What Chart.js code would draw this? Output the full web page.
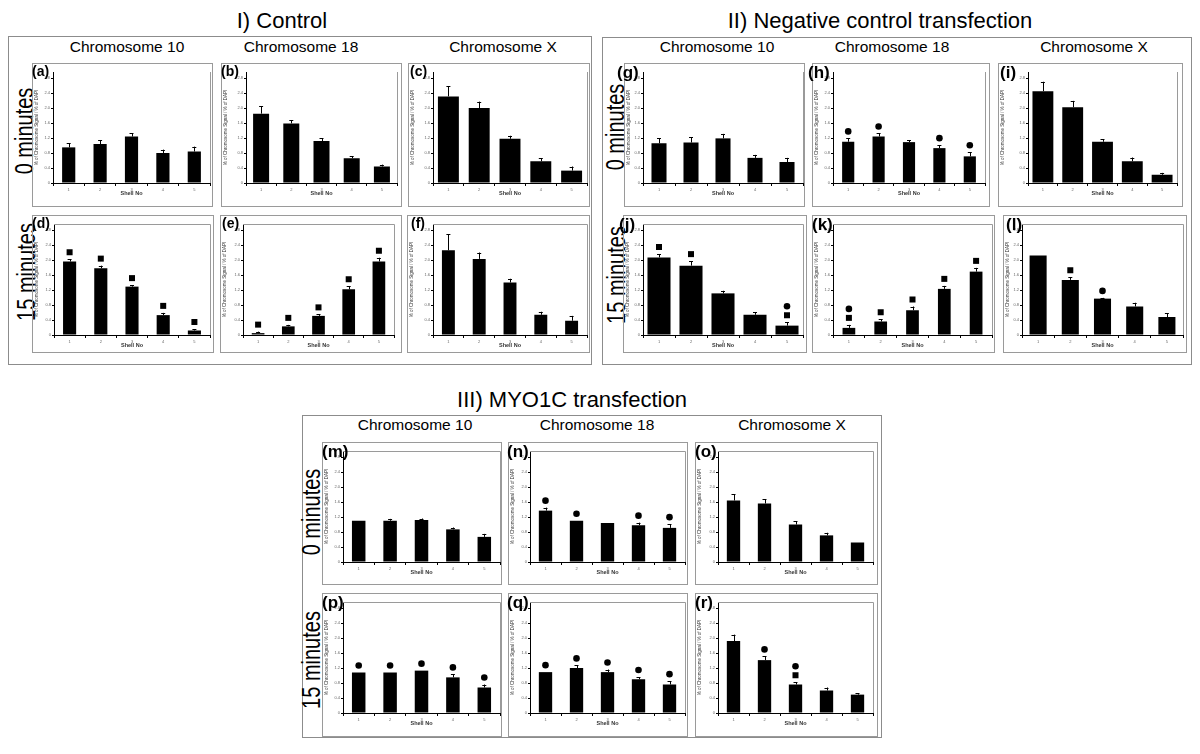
<!DOCTYPE html>
<html>
<head>
<meta charset="utf-8">
<script src="https://cdn.jsdelivr.net/npm/chart.js@4/dist/chart.umd.min.js"></script>
<style>
  body { margin: 0; background: #fff; width: 1200px; height: 754px; position: relative; overflow: hidden;
         font-family: "Liberation Sans", Arial, Helvetica, sans-serif; color: #000; }
  .group { position: absolute; border: 1px solid #8c8c8c; box-sizing: border-box; }
  .panel { position: absolute; border: 1px solid #9a9a9a; box-sizing: border-box; pointer-events: none; }
  canvas { position: absolute; }
  .title { position: absolute; font-size: 22px; line-height: 1; white-space: nowrap; transform: translate(-50%, -50%); }
  .head { position: absolute; font-size: 15.5px; line-height: 1; white-space: nowrap; transform: translate(-50%, -50%); }
  .time { position: absolute; font-size: 25px; line-height: 1; white-space: nowrap;
          transform: translate(-50%, -50%) rotate(-90deg) scaleX(0.8); }
  .lbl { position: absolute; font-weight: bold; line-height: 1; white-space: nowrap; }
</style>
</head>
<body>
<script>
// ---- data ----
const shellNo = ['1', '2', '3', '4', '5'];
const yTickValues = [0, 0.4, 0.8, 1.2, 1.6, 2, 2.4, 2.8];

// I) Control
const aMean = [0.95, 1.04, 1.24, 0.80, 0.84];
const aErr  = [0.11, 0.10, 0.09, 0.09, 0.13];
const aSig  = ['', '', '', '', ''];
const bMean = [1.85, 1.59, 1.12, 0.66, 0.44];
const bErr  = [0.20, 0.09, 0.07, 0.05, 0.05];
const bSig  = ['', '', '', '', ''];
const cMean = [2.31, 2.00, 1.18, 0.58, 0.33];
const cErr  = [0.27, 0.17, 0.08, 0.08, 0.11];
const cSig  = ['', '', '', '', ''];
const dMean = [1.96, 1.78, 1.29, 0.53, 0.12];
const dErr  = [0.06, 0.07, 0.04, 0.06, 0.04];
const dSig  = ['s', 's', 's', 's', 's'];
const eMean = [0.05, 0.23, 0.51, 1.22, 1.96];
const eErr  = [0.04, 0.04, 0.04, 0.08, 0.10];
const eSig  = ['s', 's', 's', 's', 's'];
const fMean = [2.26, 2.03, 1.40, 0.54, 0.38];
const fErr  = [0.43, 0.17, 0.10, 0.08, 0.13];
const fSig  = ['', '', '', '', ''];

// II) Negative control transfection
const gMean = [1.06, 1.08, 1.19, 0.67, 0.56];
const gErr  = [0.13, 0.14, 0.12, 0.08, 0.11];
const gSig  = ['', '', '', '', ''];
const hMean = [1.10, 1.24, 1.09, 0.93, 0.71];
const hErr  = [0.09, 0.08, 0.05, 0.08, 0.11];
const hSig  = ['c', 'c', '', 'c', 'c'];
const iMean = [2.45, 2.02, 1.10, 0.58, 0.22];
const iErr  = [0.25, 0.17, 0.07, 0.10, 0.05];
const iSig  = ['', '', '', '', ''];
const jMean = [2.07, 1.85, 1.11, 0.54, 0.25];
const jErr  = [0.09, 0.12, 0.07, 0.07, 0.09];
const jSig  = ['s', 's', '', '', 'cs'];
const kMean = [0.19, 0.36, 0.66, 1.23, 1.69];
const kErr  = [0.08, 0.06, 0.10, 0.08, 0.10];
const kSig  = ['cs', 's', 's', 's', 's'];
const lMean = [2.12, 1.47, 0.97, 0.76, 0.48];
const lErr  = [0, 0.07, 0.02, 0.10, 0.10];
const lSig  = ['', 's', 'c', '', ''];

// III) MYO1C transfection
const mMean = [1.10, 1.10, 1.12, 0.87, 0.67];
const mErr  = [0, 0.05, 0.04, 0.05, 0.08];
const mSig  = ['', '', '', '', ''];
const nMean = [1.37, 1.10, 1.04, 0.98, 0.91];
const nErr  = [0.08, 0, 0, 0.07, 0.10];
const nSig  = ['c', 'c', '', 'c', 'c'];
const oMean = [1.64, 1.56, 1.00, 0.71, 0.52];
const oErr  = [0.17, 0.12, 0.09, 0.07, 0];
const oSig  = ['', '', '', '', ''];
const pMean = [1.08, 1.08, 1.13, 0.95, 0.68];
const pErr  = [0, 0, 0, 0.08, 0.08];
const pSig  = ['c', 'c', 'c', 'c', 'c'];
const qMean = [1.09, 1.20, 1.09, 0.90, 0.76];
const qErr  = [0, 0.07, 0.07, 0.06, 0.09];
const qSig  = ['c', 'c', 'c', 'c', 'c'];
const rMean = [1.92, 1.41, 0.76, 0.60, 0.49];
const rErr  = [0.17, 0.10, 0.06, 0.08, 0.04];
const rSig  = ['', 'c', 'cs', '', ''];

// ---- page layout ----
const groups = [
  { box: [8, 36, 592, 365], title: 'I) Control', tx: 282, ty: 21,
    heads: [['Chromosome 10', 127], ['Chromosome 18', 301], ['Chromosome X', 503]], hy: 47,
    times: [[24, 131], [26, 272]] },
  { box: [602, 37, 1192, 365], title: 'II) Negative control transfection', tx: 880, ty: 21,
    heads: [['Chromosome 10', 717], ['Chromosome 18', 892], ['Chromosome X', 1094]], hy: 47,
    times: [[615, 127], [616, 275]] },
  { box: [302, 415, 882, 738], title: 'III) MYO1C transfection', tx: 572, ty: 400,
    heads: [['Chromosome 10', 415], ['Chromosome 18', 597], ['Chromosome X', 792]], hy: 425,
    times: [[311, 512], [311, 660]] }
];

// box [left, top, right, bottom], y-axis x, plot right, x-axis y
const panels = [
  { id: 'a', mean: aMean, err: aErr, sig: aSig, box: [32, 63, 213, 207], ax: 53, pr: 210, ay: 183, bar: 0.42, fs: 14, dx: 0, top: false },
  { id: 'b', mean: bMean, err: bErr, sig: bSig, box: [221, 63, 402, 207], ax: 246, pr: 397, ay: 183, bar: 0.53, fs: 14, dx: 0, top: false },
  { id: 'c', mean: cMean, err: cErr, sig: cSig, box: [408, 63, 590, 207], ax: 433, pr: 587, ay: 183, bar: 0.68, fs: 14, dx: 2, top: false },
  { id: 'd', mean: dMean, err: dErr, sig: dSig, box: [32, 215, 214, 353], ax: 54, pr: 210, ay: 335, bar: 0.42, fs: 14, dx: 0, top: true },
  { id: 'e', mean: eMean, err: eErr, sig: eSig, box: [220, 215, 402, 353], ax: 243, pr: 394, ay: 335, bar: 0.42, fs: 14, dx: 2, top: true },
  { id: 'f', mean: fMean, err: fErr, sig: fSig, box: [407, 215, 590, 353], ax: 433, pr: 587, ay: 335, bar: 0.42, fs: 14, dx: 4, top: true },
  { id: 'g', mean: gMean, err: gErr, sig: gSig, box: [624, 63, 805, 207], ax: 643, pr: 803, ay: 183, bar: 0.47, fs: 17, dx: -7, top: false },
  { id: 'h', mean: hMean, err: hErr, sig: hSig, box: [812, 63, 990, 207], ax: 833, pr: 985, ay: 183, bar: 0.40, fs: 17, dx: -4, top: false },
  { id: 'i', mean: iMean, err: iErr, sig: iSig, box: [998, 63, 1183, 207], ax: 1028, pr: 1177, ay: 183, bar: 0.70, fs: 17, dx: 2, top: false },
  { id: 'j', mean: jMean, err: jErr, sig: jSig, box: [623, 215, 807, 353], ax: 643, pr: 803, ay: 335, bar: 0.72, fs: 17, dx: -4, top: true },
  { id: 'k', mean: kMean, err: kErr, sig: kSig, box: [812, 215, 995, 353], ax: 833, pr: 992, ay: 335, bar: 0.40, fs: 17, dx: 0, top: true },
  { id: 'l', mean: lMean, err: lErr, sig: lSig, box: [1003, 215, 1187, 353], ax: 1022, pr: 1183, ay: 335, bar: 0.53, fs: 17, dx: 3, top: true },
  { id: 'm', mean: mMean, err: mErr, sig: mSig, box: [322, 442, 502, 585], ax: 343, pr: 500, ay: 562, bar: 0.43, fs: 17, dx: 0, top: true },
  { id: 'n', mean: nMean, err: nErr, sig: nSig, box: [508, 442, 688, 585], ax: 530, pr: 685, ay: 562, bar: 0.43, fs: 17, dx: -1, top: true },
  { id: 'o', mean: oMean, err: oErr, sig: oSig, box: [695, 442, 878, 585], ax: 718, pr: 873, ay: 562, bar: 0.43, fs: 17, dx: 0, top: true },
  { id: 'p', mean: pMean, err: pErr, sig: pSig, box: [322, 593, 502, 737], ax: 343, pr: 500, ay: 713, bar: 0.43, fs: 17, dx: 0, top: true },
  { id: 'q', mean: qMean, err: qErr, sig: qSig, box: [508, 593, 688, 737], ax: 530, pr: 685, ay: 713, bar: 0.43, fs: 17, dx: -1, top: true },
  { id: 'r', mean: rMean, err: rErr, sig: rSig, box: [695, 593, 878, 737], ax: 718, pr: 873, ay: 713, bar: 0.43, fs: 17, dx: 0, top: true }
];

const PLOT_H = 111; // px from 0 to the plot frame top
const Y_MAX = 2.96;

function addDiv(cls, text, css) {
  const d = document.createElement('div');
  d.className = cls;
  if (text) d.textContent = text;
  Object.assign(d.style, css);
  document.body.appendChild(d);
  return d;
}

// error bars, significance marks and the grey plot frame
const marksPlugin = {
  id: 'marks',
  afterDatasetsDraw(chart, args, opts) {
    const ctx = chart.ctx;
    const y = chart.scales.y;
    const vals = chart.data.datasets[0].data;
    const a = chart.chartArea;
    ctx.save();
    ctx.strokeStyle = '#9a9a9a';
    ctx.lineWidth = 1;
    ctx.beginPath();
    if (opts.top) {
      ctx.moveTo(a.left, a.top + 0.5);
      ctx.lineTo(a.right + 0.5, a.top + 0.5);
    } else {
      ctx.moveTo(a.right + 0.5, a.top);
    }
    ctx.lineTo(a.right + 0.5, a.bottom);
    ctx.stroke();

    ctx.strokeStyle = '#000';
    ctx.fillStyle = '#000';
    chart.getDatasetMeta(0).data.forEach((bar, i) => {
      const e = opts.err[i] || 0;
      const top = y.getPixelForValue(vals[i] + e);
      if (e > 0) {
        ctx.beginPath();
        ctx.moveTo(Math.round(bar.x) + 0.5, bar.y);
        ctx.lineTo(Math.round(bar.x) + 0.5, top);
        ctx.moveTo(bar.x - 2, Math.round(top) + 0.5);
        ctx.lineTo(bar.x + 2, Math.round(top) + 0.5);
        ctx.stroke();
      }
      const s = opts.sig[i] || '';
      let my = top - 7;
      if (s.includes('s')) {
        ctx.fillRect(bar.x - 3, my - 3, 6, 6);
        my -= 9;
      }
      if (s.includes('c')) {
        ctx.beginPath();
        ctx.arc(bar.x, my, 3.3, 0, Math.PI * 2);
        ctx.fill();
      }
    });
    ctx.restore();
  }
};

groups.forEach(g => {
  const [l, t, r, b] = g.box;
  addDiv('group', '', { left: l + 'px', top: t + 'px', width: (r - l) + 'px', height: (b - t) + 'px' });
  addDiv('title', g.title, { left: g.tx + 'px', top: g.ty + 'px' });
  g.heads.forEach(([txt, x]) => addDiv('head', txt, { left: x + 'px', top: g.hy + 'px' }));
  addDiv('time', '0 minutes', { left: g.times[0][0] + 'px', top: g.times[0][1] + 'px' });
  addDiv('time', '15 minutes', { left: g.times[1][0] + 'px', top: g.times[1][1] + 'px' });
});

panels.forEach(p => {
  const [l, t, r, b] = p.box;
  const w = r - l, h = b - t;
  addDiv('panel', '', { left: l + 'px', top: t + 'px', width: w + 'px', height: h + 'px' });

  const cv = document.createElement('canvas');
  cv.width = w;
  cv.height = h;
  cv.style.left = l + 'px';
  cv.style.top = t + 'px';
  document.body.appendChild(cv);

  const xH = 14;
  new Chart(cv, {
    type: 'bar',
    data: {
      labels: shellNo,
      datasets: [{
        data: p.mean,
        backgroundColor: '#000',
        borderWidth: 0,
        barPercentage: p.bar,
        categoryPercentage: 1
      }]
    },
    options: {
      responsive: false,
      animation: false,
      events: [],
      layout: { padding: { left: 2, right: r - p.pr, top: p.ay - PLOT_H - t, bottom: b - p.ay - xH } },
      plugins: {
        legend: { display: false },
        tooltip: { enabled: false },
        marks: { err: p.err, sig: p.sig, top: p.top }
      },
      scales: {
        x: {
          grid: { offset: true, drawOnChartArea: false, tickLength: 3, color: '#000' },
          border: { color: '#000' },
          ticks: { font: { size: 4 }, color: '#666', padding: 1, maxRotation: 0 },
          title: { display: true, text: 'Shell No', font: { size: 5.5, weight: 'bold' }, color: '#333', padding: 0 },
          afterFit: s => { s.height = xH; }
        },
        y: {
          min: 0,
          max: Y_MAX,
          afterBuildTicks: s => { s.ticks = yTickValues.map(v => ({ value: v })); },
          grid: { drawOnChartArea: false, tickLength: 2, color: '#000' },
          border: { color: '#000' },
          ticks: { font: { size: 4 }, color: '#666', padding: 1 },
          title: { display: true, text: '% of Chromosome Signal / % of DAPI', font: { size: 4.5 }, color: '#333', padding: 0 },
          afterFit: s => { s.width = p.ax - l - 2; }
        }
      }
    },
    plugins: [marksPlugin]
  });

  addDiv('lbl', '(' + p.id + ')', { left: (l + p.dx) + 'px', top: (t + 1) + 'px', fontSize: p.fs + 'px' });
});
</script>
</body>
</html>
